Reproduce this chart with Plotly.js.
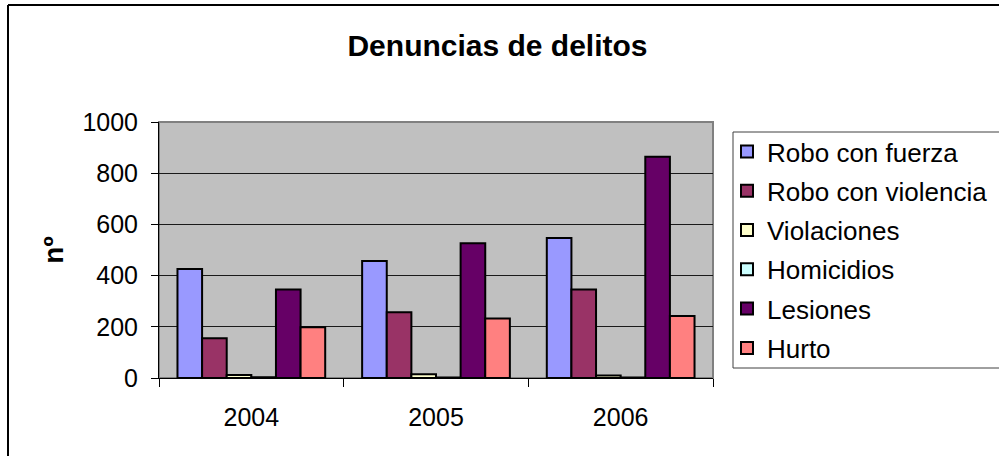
<!DOCTYPE html>
<html>
<head>
<meta charset="utf-8">
<script src="https://cdn.plot.ly/plotly-3.0.1.min.js"></script>
<style>html,body{margin:0;padding:0;background:#fff;}#chart{width:999px;height:456px;}</style>
</head>
<body>
<div id="chart"></div>
<script>
const years = ["2004", "2005", "2006"];
const roboFuerza = [426, 457, 547];
const roboViolencia = [155, 257, 346];
const violaciones = [12, 15, 10];
const homicidios = [3, 2, 2];
const lesiones = [346, 526, 864];
const hurto = [198, 232, 242];
const seriesNames = ["Robo con fuerza", "Robo con violencia", "Violaciones", "Homicidios", "Lesiones", "Hurto"];
const seriesColors = ["#9999FF", "#993366", "#FFFFCC", "#CCFFFF", "#660066", "#FF8080"];
const yTicks = [0, 200, 400, 600, 800, 1000];

const seriesValues = [roboFuerza, roboViolencia, violaciones, homicidios, lesiones, hurto];
const FONT = "Liberation Sans, Arial, sans-serif";

const traces = seriesValues.map((vals, i) => ({
  type: "bar",
  x: years,
  y: vals,
  name: seriesNames[i],
  legendgroup: "g" + i,
  marker: {color: seriesColors[i], line: {color: "#000000", width: 2}},
  hoverinfo: "x+y+name"
}));

const L = 159, R = 713, T = 122, B = 378, W = 999, H = 456;
const pw = R - L, ph = B - T;
const px = v => (v - L) / pw;
const py = v => (B - v) / ph;

const layout = {
  width: W, height: H,
  margin: {l: L, r: W - R, t: T, b: H - B, pad: 0, autoexpand: false},
  paper_bgcolor: "#ffffff",
  plot_bgcolor: "#C0C0C0",
  font: {family: FONT, size: 25, color: "#000000"},
  title: {
    text: "<b>Denuncias de delitos</b>",
    font: {family: FONT, size: 30, color: "#000000"},
    x: 0.498, xref: "container", xanchor: "center",
    y: 1 - 45 / H, yref: "container", yanchor: "middle"
  },
  barmode: "group",
  bargap: 0.2,
  bargroupgap: 0,
  xaxis: {
    type: "category",
    showgrid: false,
    showline: true, linecolor: "#000000", linewidth: 1,
    ticks: "outside", ticklen: 8, tickcolor: "#000000", tickwidth: 1,
    tickson: "boundaries",
    ticklabelstandoff: 17,
    tickfont: {family: FONT, size: 25, color: "#000000"},
    zeroline: false
  },
  yaxis: {
    range: [0, 1000],
    tickvals: yTicks,
    ticktext: yTicks.map(String),
    showgrid: true, gridcolor: "#1a1a1a", gridwidth: 1,
    showline: true, linecolor: "#000000", linewidth: 1,
    ticks: "outside", ticklen: 7, tickcolor: "#000000", tickwidth: 1,
    ticklabelstandoff: 8,
    tickfont: {family: FONT, size: 25, color: "#000000"},
    zeroline: false,
    title: {text: "<b>nº</b>", font: {family: FONT, size: 28, color: "#000000"}, standoff: 10}
  },
  legend: {
    x: px(727), xanchor: "left", xref: "paper",
    y: py(128), yanchor: "top", yref: "paper",
    bgcolor: "rgba(0,0,0,0)", borderwidth: 0,
    font: {family: FONT, size: 26, color: "#000000"},
    tracegroupgap: 2.5,
    traceorder: "grouped"
  },
  shapes: [
    {type: "rect", xref: "paper", yref: "paper", x0: 0, x1: 1, y0: 0, y1: 1,
     line: {color: "#808080", width: 2}, layer: "below"},
    {type: "rect", xref: "paper", yref: "paper", x0: px(733), x1: px(1010), y0: py(368), y1: py(132),
     line: {color: "#404040", width: 1}, fillcolor: "rgba(0,0,0,0)"},
    {type: "line", xref: "paper", yref: "paper", x0: px(8), x1: px(8), y0: py(470), y1: py(5),
     line: {color: "#000000", width: 2}},
    {type: "line", xref: "paper", yref: "paper", x0: px(8), x1: px(1010), y0: py(5), y1: py(5),
     line: {color: "#000000", width: 2}}
  ],
  showlegend: true
};

Plotly.newPlot("chart", traces, layout, {displayModeBar: false, staticPlot: true});
</script>
</body>
</html>
